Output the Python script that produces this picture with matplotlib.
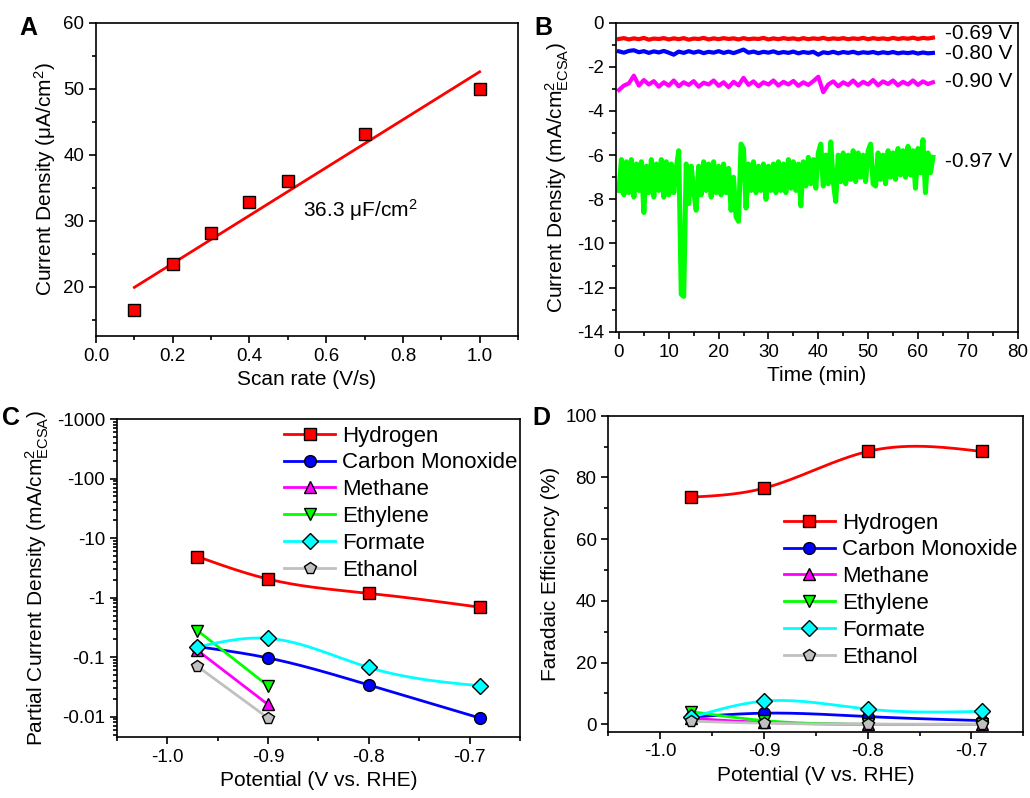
import numpy as np
import matplotlib.pyplot as plt
from matplotlib.lines import Line2D
from matplotlib.ticker import MultipleLocator, LogLocator, FuncFormatter, NullFormatter

plt.rcParams['font.family'] = ['Liberation Sans', 'DejaVu Sans']
plt.rcParams['mathtext.fontset'] = 'custom'
plt.rcParams['mathtext.rm'] = 'Liberation Sans'
plt.rcParams['mathtext.it'] = 'Liberation Sans:italic'
plt.rcParams['mathtext.bf'] = 'Liberation Sans:bold'
plt.rcParams['axes.unicode_minus'] = False
plt.rcParams['axes.linewidth'] = 1.2

# (A) double-layer capacitance
scan_rate = [0.1, 0.2, 0.3, 0.4, 0.5, 0.7, 1.0]
cap_current = [16.5, 23.4, 28.1, 32.8, 36.0, 43.1, 50.0]

# (B) chronoamperometry, red/blue/magenta sampled every 1 min, green every 0.5 min
ca_red = [-0.74, -0.70, -0.76, -0.71, -0.75, -0.69, -0.77, -0.72, -0.74, -0.70, -0.76, -0.71, -0.75,
          -0.70, -0.77, -0.72, -0.74, -0.69, -0.76, -0.71, -0.75, -0.70, -0.74, -0.71, -0.76, -0.70,
          -0.75, -0.72, -0.74, -0.69, -0.76, -0.71, -0.75, -0.70, -0.74, -0.71, -0.76, -0.70, -0.75,
          -0.71, -0.74, -0.69, -0.75, -0.71, -0.74, -0.70, -0.75, -0.71, -0.74, -0.69, -0.75, -0.70,
          -0.74, -0.71, -0.75, -0.69, -0.74, -0.70, -0.73, -0.68, -0.74, -0.69, -0.72, -0.68]
ca_blue = [-1.30, -1.36, -1.28, -1.25, -1.34, -1.29, -1.37, -1.30, -1.35, -1.28, -1.36, -1.45, -1.31,
           -1.37, -1.29, -1.36, -1.30, -1.38, -1.32, -1.36, -1.29, -1.37, -1.31, -1.38, -1.30, -1.22,
           -1.36, -1.31, -1.38, -1.32, -1.36, -1.30, -1.38, -1.33, -1.37, -1.31, -1.39, -1.33, -1.37,
           -1.32, -1.45, -1.34, -1.38, -1.32, -1.39, -1.33, -1.37, -1.32, -1.39, -1.34, -1.37, -1.33,
           -1.39, -1.34, -1.38, -1.33, -1.39, -1.35, -1.38, -1.34, -1.40, -1.35, -1.39, -1.37]
ca_magenta = [-3.05, -2.85, -2.75, -2.40, -2.85, -2.60, -2.80, -2.65, -2.90, -2.70, -2.85, -2.62, -2.88,
              -2.70, -2.82, -2.65, -2.90, -2.72, -2.80, -2.62, -2.86, -2.70, -2.92, -2.68, -2.84, -2.50,
              -2.82, -2.66, -2.88, -2.70, -2.80, -2.62, -2.85, -2.68, -2.80, -2.64, -2.86, -2.70, -2.82,
              -2.65, -2.45, -3.15, -2.80, -2.66, -2.88, -2.70, -2.82, -2.62, -2.85, -2.68, -2.80, -2.60,
              -2.84, -2.66, -2.78, -2.62, -2.84, -2.68, -2.80, -2.62, -2.82, -2.66, -2.78, -2.70]
ca_green = [-7.6, -6.2, -7.8, -6.3, -7.7, -6.2, -7.9, -6.4, -7.6, -6.3, -8.6, -6.5, -7.7, -6.2, -7.9,
            -6.4, -7.6, -6.2, -7.9, -6.3, -7.8, -6.4, -7.7, -6.6, -5.8, -12.3, -12.4, -6.4, -8.2, -6.5,
            -7.6, -8.5, -6.5, -7.8, -6.3, -7.6, -6.4, -7.9, -6.3, -7.7, -6.5, -7.8, -6.4, -7.7, -6.6,
            -8.5, -7.0, -8.8, -9.0, -5.5, -5.7, -8.4, -6.4, -7.6, -6.3, -7.7, -6.5, -7.6, -6.4, -8.0,
            -6.5, -7.6, -6.4, -7.7, -6.3, -7.6, -6.4, -7.7, -6.2, -7.5, -6.3, -7.6, -6.4, -8.3, -6.3,
            -7.4, -6.1, -7.3, -6.2, -7.5, -5.9, -5.5, -7.4, -6.0, -7.3, -5.4, -7.2, -8.1, -6.0, -7.2,
            -5.9, -7.3, -6.0, -7.1, -5.8, -7.2, -5.9, -7.0, -6.0, -7.2, -5.8, -5.5, -7.3, -7.4, -5.9,
            -7.1, -6.0, -7.3, -5.8, -7.0, -5.9, -7.1, -5.7, -6.9, -5.8, -7.0, -5.6, -6.9, -5.8, -7.5,
            -5.7, -6.8, -5.3, -7.7, -5.9, -6.8, -6.1]
ca_labels = ['-0.69 V', '-0.80 V', '-0.90 V', '-0.97 V']
ca_label_y = [-0.48, -1.39, -2.67, -6.3]

# (C) partial current densities (magnitude) and (D) Faradaic efficiencies
potential = [-0.97, -0.90, -0.80, -0.69]
products = ['Hydrogen', 'Carbon Monoxide', 'Methane', 'Ethylene', 'Formate', 'Ethanol']
partial_j = [
    [4.9, 2.05, 1.18, 0.69],
    [0.15, 0.097, 0.034, 0.0095],
    [0.13, 0.016],
    [0.28, 0.033],
    [0.148, 0.207, 0.067, 0.033],
    [0.070, 0.0095],
]
faradaic_eff = [
    [73.6, 76.5, 88.4, 88.4],
    [2.3, 3.6, 2.5, 1.2],
    [1.9, 0.6, 0.0, 0.0],
    [4.1, 1.2, 0.0, 0.0],
    [2.2, 7.5, 4.9, 4.2],
    [1.0, 0.35, 0.0, 0.0],
]

colors = ['#FF0000', '#0000FF', '#FF00FF', '#00FF00', '#00FFFF', '#C0C0C0']
markers = ['s', 'o', '^', 'v', 'D', 'p']
ms = 8.5


def natural_spline(x, y, num=200):
    x = np.asarray(x, float)
    y = np.asarray(y, float)
    n = len(x)
    h = np.diff(x)
    A = np.zeros((n, n))
    r = np.zeros(n)
    A[0, 0] = A[-1, -1] = 1
    for i in range(1, n - 1):
        A[i, i - 1] = h[i - 1]
        A[i, i] = 2 * (h[i - 1] + h[i])
        A[i, i + 1] = h[i]
        r[i] = 3 * ((y[i + 1] - y[i]) / h[i] - (y[i] - y[i - 1]) / h[i - 1])
    c = np.linalg.solve(A, r)
    xs = np.linspace(x[0], x[-1], num)
    idx = np.clip(np.searchsorted(x, xs) - 1, 0, n - 2)
    dx = xs - x[idx]
    b = (y[idx + 1] - y[idx]) / h[idx] - h[idx] * (2 * c[idx] + c[idx + 1]) / 3
    d = (c[idx + 1] - c[idx]) / (3 * h[idx])
    return xs, y[idx] + b * dx + c[idx] * dx ** 2 + d * dx ** 3


def style_axes(ax):
    ax.tick_params(which='both', direction='out', top=False, right=False, labelsize=13.5)
    ax.tick_params(which='major', length=5, width=1.2)
    ax.tick_params(which='minor', length=3, width=1.2)


def product_legend(ax, anchor):
    handles = [Line2D([], [], color=c, lw=2, marker=m, ms=ms, mfc=c, mec='black', mew=1)
               for c, m in zip(colors, markers)]
    ax.legend(handles, products, loc='upper left', bbox_to_anchor=anchor, frameon=False,
              fontsize=16, handlelength=2.3, handletextpad=0.3, labelspacing=0.26,
              borderpad=0, borderaxespad=0, numpoints=1)


fig = plt.figure(figsize=(10.3, 7.98), dpi=100)

# ---- A ----
axA = fig.add_axes([0.0932, 0.5789, 0.4097, 0.3927])
slope, intercept = np.polyfit(scan_rate, cap_current, 1)
fit_x = np.array([scan_rate[0], scan_rate[-1]])
axA.plot(fit_x, slope * fit_x + intercept, color='#FF0000', lw=2)
axA.plot(scan_rate, cap_current, ls='none', marker='s', ms=ms, mfc='#FF0000', mec='black', mew=1)
axA.text(0.54, 31.6, '36.3 μF/cm$^2$', fontsize=15, va='center', ha='left')
axA.set_xlim(0, 1.1)
axA.set_ylim(12.5, 60)
axA.xaxis.set_major_locator(MultipleLocator(0.2))
axA.xaxis.set_minor_locator(MultipleLocator(0.1))
axA.yaxis.set_major_locator(MultipleLocator(10))
axA.yaxis.set_minor_locator(MultipleLocator(5))
axA.xaxis.set_major_formatter(FuncFormatter(lambda v, p: '%.1f' % v))
axA.set_xlabel('Scan rate (V/s)', fontsize=15)
axA.set_ylabel('Current Density (μA/cm$^2$)', fontsize=15)
style_axes(axA)

# ---- B ----
axB = fig.add_axes([0.598, 0.5843, 0.39, 0.3873])
for vals, col in zip([ca_red, ca_blue, ca_magenta], ['#FF0000', '#0000FF', '#FF00FF']):
    axB.plot(np.arange(len(vals)) * 1.0, vals, color=col, lw=3)
axB.plot(np.arange(len(ca_green)) * 0.5, ca_green, color='#00FF00', lw=3.6)
for lab, y in zip(ca_labels, ca_label_y):
    axB.text(65.5, y, lab, fontsize=15, va='center', ha='left')
axB.set_xlim(-0.6, 80)
axB.set_ylim(-14, 0)
axB.xaxis.set_major_locator(MultipleLocator(10))
axB.xaxis.set_minor_locator(MultipleLocator(5))
axB.yaxis.set_major_locator(MultipleLocator(2))
axB.yaxis.set_minor_locator(MultipleLocator(1))
axB.set_xlabel('Time (min)', fontsize=15)
axB.set_ylabel(r'Current Density (mA/cm$^{2}_{\mathrm{ECSA}}$)', fontsize=15)
style_axes(axB)

# ---- C ----
axC = fig.add_axes([0.1133, 0.0768, 0.3916, 0.3981])
for vals, col, mk in zip(partial_j, colors, markers):
    x = potential[:len(vals)]
    xs, ys = natural_spline(x, np.log10(vals))
    axC.plot(xs, 10 ** ys, color=col, lw=2)
    axC.plot(x, vals, ls='none', marker=mk, ms=ms, mfc=col, mec='black', mew=1)
axC.set_yscale('log')
axC.set_xlim(-1.05, -0.65)
axC.set_ylim(0.0046, 1000)
axC.xaxis.set_major_locator(MultipleLocator(0.1))
axC.xaxis.set_minor_locator(MultipleLocator(0.05))
axC.xaxis.set_major_formatter(FuncFormatter(lambda v, p: '%.1f' % v))
axC.yaxis.set_major_locator(LogLocator(base=10, numticks=12))
axC.yaxis.set_minor_locator(LogLocator(base=10, subs=np.arange(2, 10), numticks=12))
axC.yaxis.set_major_formatter(FuncFormatter(lambda v, p: '-%g' % v))
axC.yaxis.set_minor_formatter(NullFormatter())
axC.set_xlabel('Potential (V vs. RHE)', fontsize=15)
axC.set_ylabel(r'Partial Current Density (mA/cm$^{2}_{\mathrm{ECSA}}$)', fontsize=15)
style_axes(axC)
product_legend(axC, (0.415, 0.979))

# ---- D ----
axD = fig.add_axes([0.5906, 0.0831, 0.4029, 0.396])
for vals, col, mk in zip(faradaic_eff, colors, markers):
    xs, ys = natural_spline(potential, vals)
    axD.plot(xs, ys, color=col, lw=2)
    axD.plot(potential, vals, ls='none', marker=mk, ms=ms, mfc=col, mec='black', mew=1)
axD.set_xlim(-1.05, -0.65)
axD.set_ylim(-2.4, 100)
axD.xaxis.set_major_locator(MultipleLocator(0.1))
axD.xaxis.set_minor_locator(MultipleLocator(0.05))
axD.xaxis.set_major_formatter(FuncFormatter(lambda v, p: '%.1f' % v))
axD.yaxis.set_major_locator(MultipleLocator(20))
axD.yaxis.set_minor_locator(MultipleLocator(10))
axD.set_xlabel('Potential (V vs. RHE)', fontsize=15)
axD.set_ylabel('Faradaic Efficiency (%)', fontsize=15)
style_axes(axD)
product_legend(axD, (0.423, 0.693))

for lab, x, y in [('A', 0.019, 0.956), ('B', 0.519, 0.956), ('C', 0.002, 0.467), ('D', 0.517, 0.467)]:
    fig.text(x, y, lab, fontsize=18, fontweight='bold')

fig.savefig('out.png', dpi=100)
